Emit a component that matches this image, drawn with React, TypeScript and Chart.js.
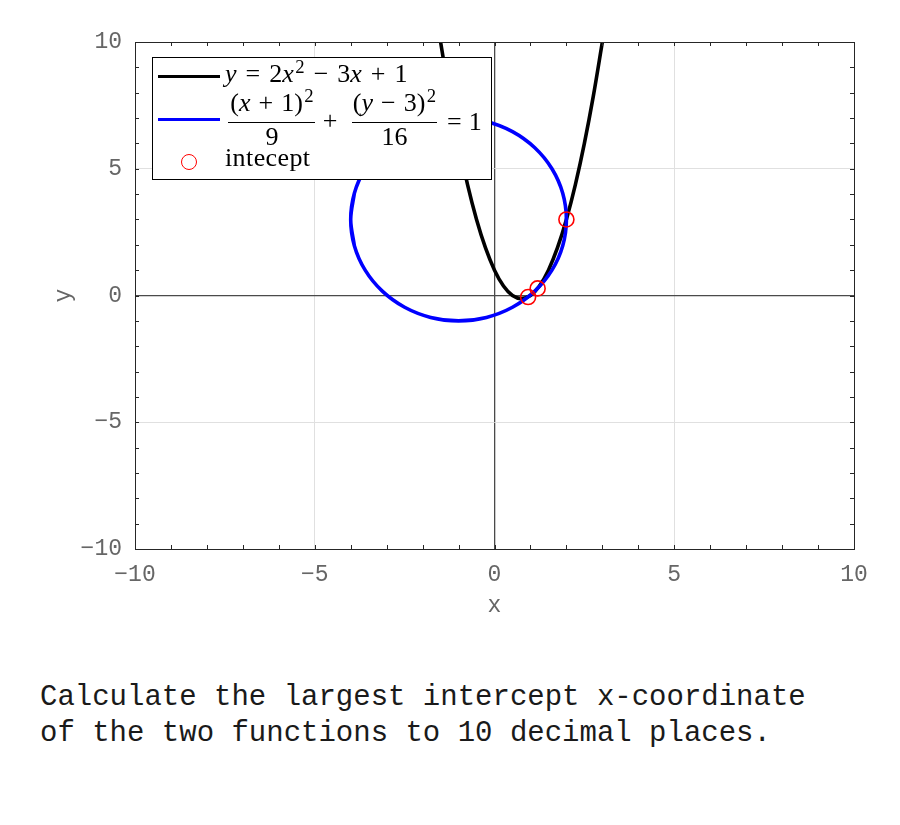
import React, { useEffect, useRef } from 'react';
import { Chart, registerables } from 'chart.js';

Chart.register(...registerables);

// ---- data ----
const parabolaX = [-1.5, -1.25, -1, -0.75, -0.5, -0.25, 0, 0.25, 0.5, 0.75, 1, 1.25, 1.5, 1.75, 2, 2.25, 2.5, 2.75, 3];
const parabolaY = [10, 7.875, 6, 4.375, 3, 1.875, 1, 0.375, 0, -0.125, 0, 0.375, 1, 1.875, 3, 4.375, 6, 7.875, 10];

// ellipse traced once around (with a small overlap at the left end so the loop closes smoothly)
const ellipseX = [-3.898, -4, -3.898, -3.598, -3.121, -2.5, -1.776, -1, -0.224, 0.5, 1.121, 1.598, 1.898, 2, 1.898, 1.598, 1.121, 0.5, -0.224, -1, -1.776, -2.5, -3.121, -3.598, -3.898, -4, -3.898];
const ellipseY = [4.035, 3, 1.965, 1, 0.172, -0.464, -0.864, -1, -0.864, -0.464, 0.172, 1, 1.965, 3, 4.035, 5, 5.828, 6.464, 6.864, 7, 6.864, 6.464, 5.828, 5, 4.035, 3, 1.965];

const interceptX = [0.935, 1.2, 2];
const interceptY = [-0.06, 0.28, 3];

const axisMin = -10;
const axisMax = 10;
const minorStep = 1;
const majorStep = 5;

const captionLines = [
  'Calculate the largest intercept x-coordinate',
  'of the two functions to 10 decimal places.',
];

const mono = '"Liberation Mono", "DejaVu Sans Mono", monospace';
const serif = '"Liberation Serif", "Times New Roman", serif';

const fmt = (v: number) => (v < 0 ? '\u2212' + String(Math.abs(v)) : String(v));

const framePlugin = {
  id: 'frame',
  afterDraw(chart: any) {
    const { ctx, chartArea: a, scales } = chart;
    ctx.save();
    ctx.strokeStyle = '#262626';
    ctx.lineWidth = 1;
    ctx.beginPath();
    for (const t of scales.x.ticks) {
      const px = Math.round(scales.x.getPixelForValue(t.value)) + 0.5;
      ctx.moveTo(px, a.bottom);
      ctx.lineTo(px, a.bottom - 4);
      ctx.moveTo(px, a.top);
      ctx.lineTo(px, a.top + 4);
    }
    for (const t of scales.y.ticks) {
      const py = Math.round(scales.y.getPixelForValue(t.value)) + 0.5;
      ctx.moveTo(a.left, py);
      ctx.lineTo(a.left + 4, py);
      ctx.moveTo(a.right, py);
      ctx.lineTo(a.right - 4, py);
    }
    ctx.stroke();
    ctx.strokeRect(Math.round(a.left) + 0.5, Math.round(a.top) + 0.5, Math.round(a.right - a.left), Math.round(a.bottom - a.top));
    ctx.restore();
  },
};

const FS = 26;

function Txt(props: { x: number; base: number; size?: number; center?: boolean; children: any; ls?: number }) {
  const size = props.size ?? FS;
  return (
    <span
      style={{
        position: 'absolute',
        left: props.x,
        top: props.base - 0.8375 * size,
        fontFamily: serif,
        fontSize: size,
        lineHeight: `${size}px`,
        whiteSpace: 'nowrap',
        letterSpacing: props.ls ?? 0,
        transform: props.center ? 'translateX(-50%)' : undefined,
        color: '#000',
      }}
    >
      {props.children}
    </span>
  );
}

const Sup = ({ children }: { children: any }) => (
  <span style={{ fontSize: '0.72em', position: 'relative', top: '-0.5em', marginLeft: 1.5 }}>{children}</span>
);
const Op = ({ children, m = 5 }: { children: any; m?: number }) => (
  <span style={{ margin: `0 ${m}px` }}>{children}</span>
);

export default function App() {
  const ref = useRef<HTMLCanvasElement | null>(null);

  useEffect(() => {
    if (!ref.current) return;
    const tickFont = { family: mono, size: 23 };
    const gridColor = (c: any) =>
      c.tick.value === 0 ? '#4a4a4a' : c.tick.value % majorStep === 0 ? '#e0e0e0' : 'rgba(0,0,0,0)';
    const gridWidth = (c: any) => (c.tick.value === 0 ? 1.3 : 1);
    const chart = new Chart(ref.current, {
      type: 'scatter',
      data: {
        datasets: [
          {
            label: 'intecept',
            data: interceptX.map((x, i) => ({ x, y: interceptY[i] })),
            showLine: false,
            pointStyle: 'circle',
            pointRadius: 7.5,
            pointHoverRadius: 7.5,
            borderColor: '#ff0000',
            backgroundColor: 'rgba(0,0,0,0)',
            pointBorderWidth: 1.6,
            borderWidth: 1.6,
          },
          {
            label: 'ellipse',
            data: ellipseX.map((x, i) => ({ x, y: ellipseY[i] })),
            showLine: true,
            borderColor: '#0000ff',
            backgroundColor: '#0000ff',
            borderWidth: 3.6,
            pointRadius: 0,
            tension: 0.34,
            fill: false,
          },
          {
            label: 'parabola',
            data: parabolaX.map((x, i) => ({ x, y: parabolaY[i] })),
            showLine: true,
            borderColor: '#000000',
            backgroundColor: '#000000',
            borderWidth: 3.6,
            pointRadius: 0,
            cubicInterpolationMode: 'monotone',
            fill: false,
          },
        ],
      } as any,
      options: {
        animation: false,
        responsive: false,
        devicePixelRatio: 1,
        layout: { padding: { left: 0, top: 42, right: 46, bottom: 0 } },
        plugins: { legend: { display: false }, tooltip: { enabled: false } },
        events: [],
        scales: {
          x: {
            type: 'linear',
            min: axisMin,
            max: axisMax,
            afterFit: (s: any) => {
              s.height = 91;
            },
            ticks: {
              stepSize: minorStep,
              autoSkip: false,
              maxRotation: 0,
              padding: 12,
              color: '#666666',
              font: tickFont,
              callback: (v: any) => (Number(v) % majorStep === 0 ? fmt(Number(v)) : ''),
            },
            grid: { color: gridColor, lineWidth: gridWidth, drawTicks: false },
            border: { display: false },
            title: { display: true, text: 'x', color: '#666666', font: tickFont, padding: { top: 0, bottom: 20 } },
          },
          y: {
            type: 'linear',
            min: axisMin,
            max: axisMax,
            afterFit: (s: any) => {
              s.width = 135;
            },
            ticks: {
              stepSize: minorStep,
              autoSkip: false,
              padding: 13,
              color: '#666666',
              font: tickFont,
              callback: (v: any) => (Number(v) % majorStep === 0 ? fmt(Number(v)) : ''),
            },
            grid: { color: gridColor, lineWidth: gridWidth, drawTicks: false },
            border: { display: false },
            title: { display: true, text: 'y', color: '#666666', font: tickFont, padding: { top: 50, bottom: 0 } },
          },
        },
      } as any,
      plugins: [framePlugin],
    });
    return () => chart.destroy();
  }, []);

  return (
    <div style={{ position: 'absolute', left: 0, top: 0, width: 900, height: 825, background: '#fff', overflow: 'hidden' }}>
      <canvas ref={ref} width={900} height={640} style={{ position: 'absolute', left: 0, top: 0, width: 900, height: 640 }} />

      {/* legend */}
      <div
        style={{
          position: 'absolute',
          left: 152,
          top: 57,
          width: 340,
          height: 123,
          border: '1px solid #000',
          background: '#fff',
          boxSizing: 'border-box',
        }}
      />
      <div style={{ position: 'absolute', left: 158, top: 74.5, width: 62, height: 3.6, background: '#000' }} />
      <Txt x={225} base={83}>
        <i>y</i>
        <Op m={9}>=</Op>2<i>x</i>
        <Sup>2</Sup>
        <Op m={9}>{'\u2212'}</Op>3<i>x</i>
        <Op m={9}>+</Op>1
      </Txt>

      <div style={{ position: 'absolute', left: 158, top: 117.5, width: 62, height: 3.6, background: '#0000ff' }} />
      <Txt x={272} base={112} center>
        (<i>x</i>
        <Op m={8}>+</Op>1)<Sup>2</Sup>
      </Txt>
      <div style={{ position: 'absolute', left: 228, top: 121.5, width: 87, height: 1.2, background: '#000' }} />
      <Txt x={272} base={146} center>
        9
      </Txt>
      <Txt x={330} base={130} center>
        +
      </Txt>
      <Txt x={394.5} base={112} center>
        (<i>y</i>
        <Op m={8}>{'\u2212'}</Op>3)<Sup>2</Sup>
      </Txt>
      <div style={{ position: 'absolute', left: 352, top: 121.5, width: 85, height: 1.2, background: '#000' }} />
      <Txt x={394.5} base={146} center>
        16
      </Txt>
      <Txt x={447} base={131}>
        =<span style={{ marginLeft: 7 }}>1</span>
      </Txt>

      <div
        style={{
          position: 'absolute',
          left: 181,
          top: 154,
          width: 16,
          height: 16,
          borderRadius: '50%',
          border: '1.6px solid #ff0000',
          boxSizing: 'border-box',
        }}
      />
      <Txt x={225} base={167} ls={0.4}>
        intecept
      </Txt>

      {/* caption */}
      <div
        style={{
          position: 'absolute',
          left: 40,
          top: 680,
          fontFamily: mono,
          fontSize: 29,
          lineHeight: '36px',
          color: '#1a1a1a',
          whiteSpace: 'pre',
        }}
      >
        {captionLines.map((l, i) => (
          <div key={i}>{l}</div>
        ))}
      </div>
    </div>
  );
}
